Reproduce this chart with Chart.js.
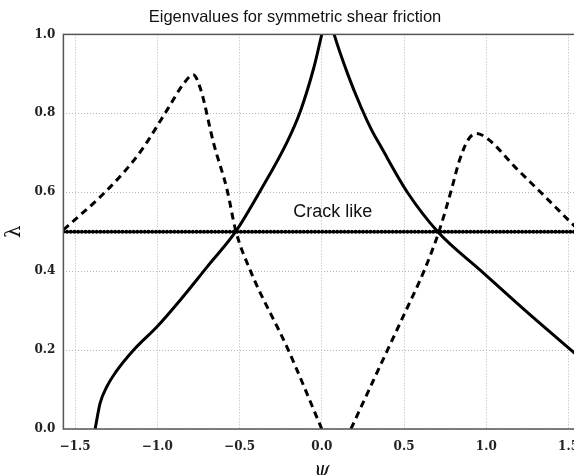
<!DOCTYPE html>
<html>
<head>
<meta charset="utf-8">
<script src="https://cdn.jsdelivr.net/npm/chart.js@4/dist/chart.umd.min.js"></script>
<style>
  html, body { margin: 0; padding: 0; background: #fff; overflow: hidden; }
  canvas { display: block; }
</style>
</head>
<body>
<canvas id="grafico" width="590" height="483"></canvas>
<script>
// x axis runs from -pi/2 to pi/2
const psiMin = -Math.PI / 2;
const psiMax = Math.PI / 2;
const xTicks = [-1.5, -1.0, -0.5, 0.0, 0.5, 1.0, 1.5];
const yTicks = [0.0, 0.2, 0.4, 0.6, 0.8, 1.0];

// solid curve
const solidPsi = [-1.378, -1.348, -1.307, -1.256, -1.144, -1.002, -0.86, -0.697, -0.524, -0.372, -0.209, -0.128, -0.047, 0.0, 0.037, 0.075, 0.157, 0.238, 0.3, 0.36, 0.52, 0.705, 0.97, 1.234, 1.571];
const solidLam = [0.0, 0.065, 0.107, 0.142, 0.2, 0.259, 0.327, 0.411, 0.5, 0.605, 0.729, 0.808, 0.918, 1.0, 1.06, 1.0, 0.9, 0.816, 0.76, 0.715, 0.6, 0.5, 0.4, 0.301, 0.18];

// dashed curve (null = gap where it sits on the axis)
const dashedPsi = [-1.571, -1.54, -1.287, -1.104, -0.941, -0.84, -0.782, -0.738, -0.657, -0.575, -0.524, -0.433, -0.209, 0.0, 0.09, 0.177, 0.36, 0.5, 0.624, 0.715, 0.787, 0.837, 0.888, 0.939, 1.01, 1.172, 1.335, 1.498, 1.571];
const dashedLam = [0.505, 0.516, 0.613, 0.702, 0.808, 0.875, 0.898, 0.863, 0.723, 0.605, 0.504, 0.4, 0.205, 0.0, null, 0.0, 0.165, 0.29, 0.403, 0.504, 0.605, 0.681, 0.732, 0.749, 0.735, 0.665, 0.598, 0.53, 0.5];

// crack like line
const crackPsi = [-1.571, 1.571];
const crackLam = [0.5, 0.5];
const crackLabel = 'Crack like';
const crackLabelPsi = 0.067;
const crackLabelLam = 0.549;

function puntos(xs, ys) {
  return xs.map((x, i) => ({ x: x, y: ys[i] }));
}

function fmt(v) {
  return (v < 0 ? '\u2212' : '') + Math.abs(v).toFixed(1);
}

const marco = {
  id: 'marco',
  afterDraw(chart) {
    const { ctx, chartArea: a, scales } = chart;
    ctx.save();
    ctx.strokeStyle = '#555';
    ctx.lineWidth = 1.5;
    ctx.strokeRect(a.left, a.top, a.right - a.left, a.bottom - a.top);
    ctx.fillStyle = '#111';
    ctx.font = '18px "Liberation Sans", Arial, sans-serif';
    ctx.textAlign = 'center';
    ctx.textBaseline = 'middle';
    ctx.fillText(crackLabel, scales.x.getPixelForValue(crackLabelPsi), scales.y.getPixelForValue(crackLabelLam));
    ctx.restore();
  }
};

const tickFont = { family: '"DejaVu Serif", serif', size: 12, weight: 'bold' };

const config = {
  type: 'line',
  data: {
    datasets: [
      {
        label: 'solid',
        data: puntos(solidPsi, solidLam),
        borderColor: '#000',
        borderWidth: 3,
        pointRadius: 0,
        cubicInterpolationMode: 'monotone'
      },
      {
        label: 'dashed',
        data: puntos(dashedPsi, dashedLam),
        borderColor: '#000',
        borderWidth: 3,
        borderDash: [7, 5],
        pointRadius: 0,
        spanGaps: false,
        cubicInterpolationMode: 'monotone'
      },
      {
        label: 'crack',
        data: puntos(crackPsi, crackLam),
        borderColor: '#000',
        borderWidth: 4,
        borderDash: [0, 3.7],
        borderCapStyle: 'round',
        pointRadius: 0
      }
    ]
  },
  options: {
    responsive: false,
    animation: false,
    devicePixelRatio: 1,
    layout: { padding: { left: 0, right: 0, top: 0, bottom: 0 } },
    plugins: {
      legend: { display: false },
      tooltip: { enabled: false },
      title: {
        display: true,
        text: 'Eigenvalues for symmetric shear friction',
        color: '#111',
        font: { family: '"Liberation Sans", Arial, sans-serif', size: 16.5, weight: 'normal', lineHeight: 1.2 },
        padding: { top: 8, bottom: 6.6 }
      }
    },
    scales: {
      x: {
        type: 'linear',
        min: psiMin,
        max: psiMax,
        afterBuildTicks: (s) => { s.ticks = xTicks.map(v => ({ value: v })); },
        afterFit: (s) => { s.height = 54; },
        grid: { color: '#b5b5b5', lineWidth: 1, drawTicks: false },
        border: { display: false, dash: [1, 2] },
        ticks: { padding: 11, color: '#222', font: tickFont, callback: (v) => fmt(v), maxRotation: 0 },
        title: {
          display: true,
          text: '\u03c8',
          color: '#111',
          font: { family: '"DejaVu Serif", serif', size: 20, style: 'italic', lineHeight: 1.2 },
          padding: 0
        }
      },
      y: {
        type: 'linear',
        min: 0,
        max: 1,
        afterBuildTicks: (s) => { s.ticks = yTicks.map(v => ({ value: v })); },
        afterFit: (s) => { s.width = 63.4; },
        grid: { color: '#b5b5b5', lineWidth: 1, drawTicks: false },
        border: { display: false, dash: [1, 2] },
        ticks: { padding: 8, color: '#222', font: tickFont, callback: (v) => fmt(v) },
        title: {
          display: true,
          text: '\u03bb',
          color: '#111',
          font: { family: '"DejaVu Serif", serif', size: 20, lineHeight: 1.2 },
          padding: 3
        }
      }
    }
  },
  plugins: [marco]
};

const myChart = new Chart(document.getElementById('grafico'), config);
</script>
</body>
</html>
